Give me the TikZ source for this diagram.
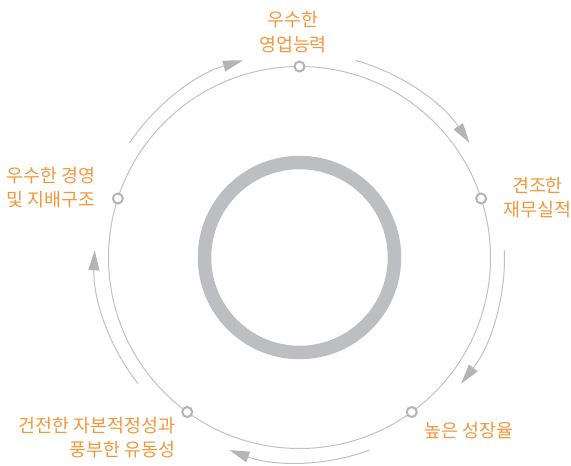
\documentclass[tikz,border=0pt]{standalone}
\usepackage{fontspec}
\setmainfont{Noto Sans CJK KR}
\usetikzlibrary{arrows.meta}
\definecolor{ringgray}{HTML}{BCBEC1}
\definecolor{linegray}{HTML}{C0C1C4}
\definecolor{arrgray}{HTML}{B2B4B7}
\definecolor{lbl}{HTML}{F4973A}
\begin{document}
\begin{tikzpicture}[x=1pt,y=1pt,
  dot/.style={circle,draw=arrgray,line width=2pt,fill=white,minimum size=10pt,inner sep=0pt},
  lab/.style={text=lbl,font=\fontsize{18.4}{24.5}\selectfont,inner sep=0pt},
  flow/.style={draw=linegray,line width=1pt,-{Triangle[length=20pt,width=11pt,color=arrgray]}}]
\useasboundingbox (0,0) rectangle (571,466);
\coordinate (C) at (299.5,208.5);
% central thick ring
\draw[ringgray,line width=13.5pt] (C) circle[radius=95];
% thin circle
\draw[linegray,line width=1pt] (C) circle[radius=191];
% outer flow arcs
\foreach \a in {90,18,-54,-126,162}{
  \draw[flow] ([shift={(C)}]\a-16:205) arc[start angle=\a-16,end angle=\a-72+16,radius=205];
}
% nodes on circle
\node[dot] (n1) at ([shift={(C)}]90:191) {};
\node[dot] (n2) at ([shift={(C)}]18:191) {};
\node[dot] (n3) at ([shift={(C)}]-54:191) {};
\node[dot] (n4) at ([shift={(C)}]-126:191) {};
\node[dot] (n5) at ([shift={(C)}]162:191) {};
% labels
\node[lab,align=center] (t1) at (293,433.7) {우수한\\영업능력};
\node[lab,align=center] (t2) at (537.5,268.3) {견조한\\재무실적};
\node[lab,align=left,anchor=west] (t5) at (6.5,278.5) {우수한 경영\\및 지배구조};
\node[lab,align=right,anchor=east] (t4) at (175.5,28.5) {건전한 자본적정성과\\풍부한 유동성};
\node[lab,anchor=west] (t3) at (424.5,35) {높은 성장율};
\end{tikzpicture}
\end{document}
